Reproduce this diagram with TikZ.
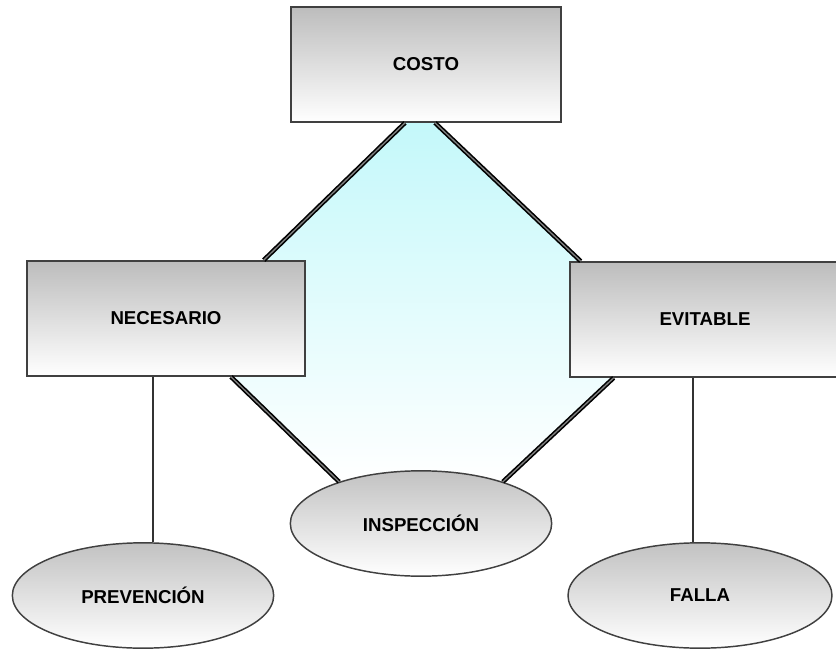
\documentclass[tikz,border=0pt]{standalone}
\usepackage{fontspec}
\setmainfont{Liberation Sans}
\usepackage{tikz}
\usetikzlibrary{shapes.geometric, positioning, backgrounds}

\begin{document}
\begin{tikzpicture}[
    x=0.75pt, y=-0.75pt, % one unit = one pixel of the sketch, y going down
    every node/.style={align=center, font=\fontsize{14}{16}\selectfont\bfseries, inner sep=0pt},
    costbox/.style={rectangle, draw=black!75, line width=1.5pt, top color=black!26, bottom color=white, minimum height=86pt},
    costoval/.style={ellipse, draw=black!75, line width=1.1pt, top color=black!24, bottom color=white, minimum width=196pt, minimum height=79pt},
    link/.style={draw=black, line width=1.2pt, double=black!50, double distance=1pt}, % heavy connectors round the cyan area
    thinlink/.style={draw=black!80, line width=0.8pt}
]
\useasboundingbox (0,0) rectangle (836,653);

% Boxes
\node[costbox, minimum width=202pt] (costo) at (426,64.5) {COSTO};
\node[costbox, minimum width=208pt] (necesario) at (166,318.5) {NECESARIO};
\node[costbox, minimum width=203pt] (evitable) at (705,319.5) {EVITABLE};

% Ovals
\node[costoval] (inspeccion) at (421,523.5) {INSPECCIÓN};
\node[costoval] (prevencion) at (143,595.5) {PREVENCIÓN};
\node[costoval, minimum width=198pt] (falla) at (700,595.5) {FALLA};

% Cyan area behind the boxes
\begin{pgfonlayer}{background}
\fill[top color={rgb,255:red,196;green,248;blue,250}, bottom color=white]
    ([xshift=-15.75pt]costo.south) -- ([xshift=6.75pt]costo.south)
    -- ([xshift=9pt]evitable.north west) -- ([xshift=33.75pt]evitable.south west)
    -- (inspeccion.27) -- (inspeccion.153)
    -- ([xshift=-56pt]necesario.south east) -- ([xshift=-31.5pt]necesario.north east) -- cycle;
\end{pgfonlayer}

% Connectors
\path[link] ([xshift=-15.75pt]costo.south) -- ([xshift=-31.5pt]necesario.north east);
\path[link] ([xshift=6.75pt]costo.south) -- ([xshift=9pt]evitable.north west);
\path[link] ([xshift=-56pt]necesario.south east) -- (inspeccion.153);
\path[link] ([xshift=33.75pt]evitable.south west) -- (inspeccion.27);
\path[thinlink] ([xshift=-9.75pt]necesario.south) -- ([xshift=7.5pt]prevencion.north);
\path[thinlink] ([xshift=-9pt]evitable.south) -- ([xshift=-5.25pt]falla.north);

\end{tikzpicture}
\end{document}
